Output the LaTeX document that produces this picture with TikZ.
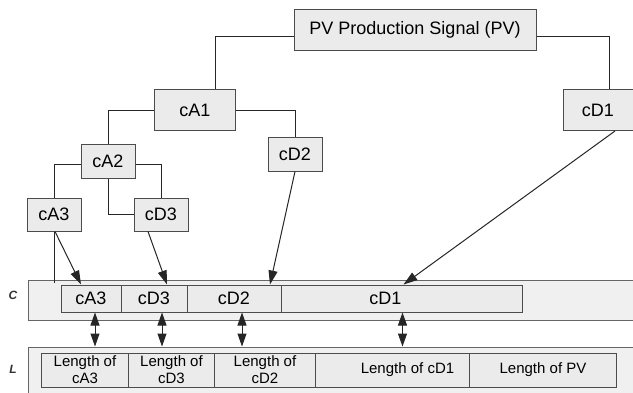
\documentclass[tikz,border=0pt]{standalone}
\usepackage{fontspec}
\setmainfont{Liberation Sans}
\usetikzlibrary{arrows.meta}
\begin{document}
\begin{tikzpicture}[x=1pt,y=-1pt,
  box/.style={draw=black!70, fill=black!8, line width=1pt, inner sep=0pt, font=\fontsize{18}{21}\selectfont},
  cell/.style={draw=black!70, fill=black!8, line width=1pt, inner sep=0pt, font=\fontsize{18}{21}\selectfont, minimum height=27pt},
  lcell/.style={draw=black!70, fill=black!8, line width=1pt, inner sep=0pt, font=\fontsize{15}{17}\selectfont, align=center, minimum height=34pt},
  bar/.style={draw=black!60, fill=black!6, line width=1pt, inner sep=0pt, anchor=north west},
  conn/.style={draw=black!85, line width=1pt},
  tip/.style={},
  arr/.style={conn, -{Triangle[length=14pt,width=9pt]}},
  darr/.style={conn, {Triangle[length=13pt,width=9pt]}-{Triangle[length=13pt,width=9pt]}},
  side/.style={font=\fontsize{12}{14}\selectfont\bfseries\itshape, text=black!80}
]
\clip (0,0) rectangle (633,392);
\fill[white] (0,0) rectangle (633,392);

% bars
\node[bar, minimum width=620pt, minimum height=40pt] (cbar) at (27.5,279.5) {};
\node[bar, minimum width=620pt, minimum height=60pt] (lbar) at (27.5,346.5) {};
\node[side] (clab) at (13,295) {C};
\node[side] (llab) at (13,369) {L};

% tree boxes
\node[box, minimum width=242pt, minimum height=41pt] (pv) at (415,30) {PV Production Signal (PV)};
\node[box, minimum width=81pt, minimum height=41pt] (ca1) at (195,110) {cA1};
\node[box, minimum width=70pt, minimum height=41pt] (cd1) at (598,110) {cD1};
\node[box, minimum width=54pt, minimum height=34pt] (cd2) at (295,154) {cD2};
\node[box, minimum width=54pt, minimum height=34pt] (ca2) at (108,161) {cA2};
\node[box, minimum width=54pt, minimum height=33pt] (ca3) at (54,214.5) {cA3};
\node[box, minimum width=54pt, minimum height=33pt] (cd3) at (161,214.5) {cD3};

% C cells
\node[cell, minimum width=60pt] (c1) at (91,298.5) {cA3};
\node[cell, minimum width=66pt] (c2) at (154,298.5) {cD3};
\node[cell, minimum width=94pt] (c3) at (234,298.5) {cD2};
\node[cell, minimum width=241pt] (c4) at (401.5,298.5) {\hspace*{-32pt}cD1};

% L cells
\node[lcell, minimum width=87pt] (l1) at (85,370) {Length of\\cA3};
\node[lcell, minimum width=86pt] (l2) at (171.5,370) {Length of\\cD3};
\node[lcell, minimum width=101pt] (l3) at (265,370) {Length of\\cD2};
\node[lcell, minimum width=154pt] (l4) at (392.5,370) {Length of cD1\hspace*{-30pt}};
\node[lcell, minimum width=147pt] (l5) at (543,370) {Length of PV};

% tree connectors
\draw[conn] ([yshift=-6pt]pv.west) -| ([xshift=20.5pt]ca1.north);
\draw[conn] ([yshift=-6pt]pv.east) -| ([xshift=11.5pt]cd1.north);
\draw[conn] (ca1.west) -| (ca2.north);
\draw[conn] (ca1.east) -| (cd2.north);
\draw[conn] ([yshift=-3pt]ca2.west) -| (ca3.north);
\draw[conn] ([yshift=-3pt]ca2.east) -| (cd3.north);
\draw[conn] (ca2.south) |- (cd3.west);
\coordinate (ca3end) at (54,283);
\draw[conn] (ca3.south) -- (ca3end);

% arrows into C
\draw[arr] ([xshift=1pt]ca3.south) -- ([xshift=-10pt]c1.north);
\draw[arr] ([xshift=-13pt]cd3.south) -- ([xshift=13pt]c2.north);
\draw[arr] (cd2.south) -- ([xshift=36pt]c3.north);
\draw[arr] ([xshift=17pt]cd1.south) -- ([xshift=2pt]c4.north);

% double arrows C <-> L
\draw[darr] ([xshift=4pt]c1.south) -- ([xshift=4pt]c1.south |- lbar.north);
\draw[darr] ([xshift=8pt]c2.south) -- ([xshift=8pt]c2.south |- lbar.north);
\draw[darr] ([xshift=8pt]c3.south) -- ([xshift=8pt]c3.south |- lbar.north);
\draw[darr] ([xshift=1pt]c4.south) -- ([xshift=1pt]c4.south |- lbar.north);
\end{tikzpicture}
\end{document}
